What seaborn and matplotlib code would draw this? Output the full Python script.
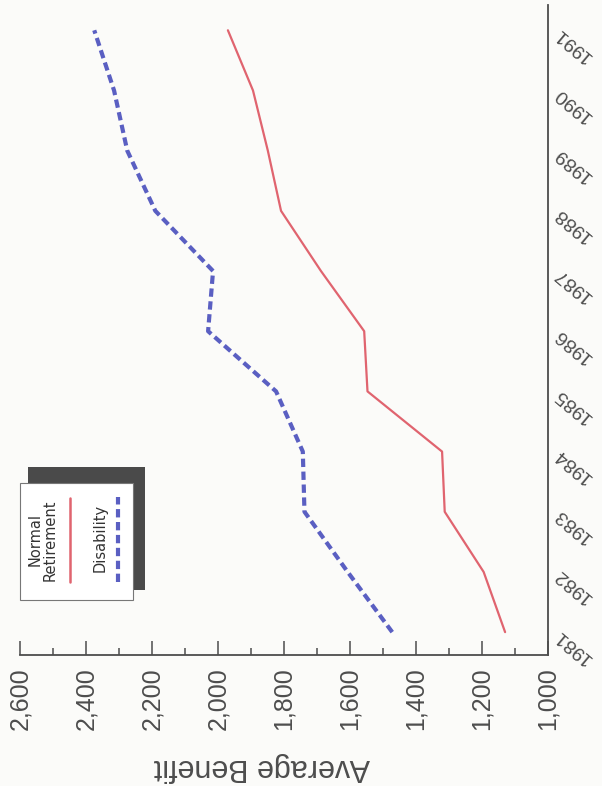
import numpy as np
import pandas as pd
import matplotlib
matplotlib.use("Agg")
import matplotlib.pyplot as plt
import seaborn as sns
from matplotlib.ticker import MultipleLocator, FuncFormatter
from matplotlib.patches import Rectangle
from matplotlib.lines import Line2D

# Average monthly benefit by year, two benefit types
years = list(range(1981, 1992))
normal_retirement = [1130, 1195, 1313, 1321, 1547, 1557, 1688, 1809, 1849, 1894, 1970]
disability = [1472, 1607, 1738, 1743, 1824, 2030, 2015, 2190, 2275, 2315, 2375]
series_names = ["Normal Retirement", "Disability"]
benefit_ticks = list(range(1000, 2601, 200))

RED = "#e0646f"
BLUE = "#5a5fc2"
INK = "#4d4d4d"
PAPER = "#fbfbf9"

sns.set_theme(style="white")
plt.rcParams["font.family"] = ["Liberation Sans", "DejaVu Sans"]

W, H = 602, 786
fig = plt.figure(figsize=(W / 100, H / 100), dpi=100, facecolor=PAPER)


def fx(px):
    return px / W


def fy(py):
    return 1 - py / H


# Page is laid out sideways: benefit runs right-to-left along the bottom,
# years run bottom-to-top along the right edge.
ax = fig.add_axes([fx(20), fy(655), fx(548) - fx(20), fy(5) - fy(655)])
ax.set_facecolor("none")

df = pd.DataFrame({
    "year": years * 2,
    "benefit": normal_retirement + disability,
    "series": [series_names[0]] * len(years) + [series_names[1]] * len(years),
})

sns.lineplot(data=df[df["series"] == series_names[0]], x="benefit", y="year",
             orient="y", color=RED, linewidth=1.6, ax=ax, legend=False)
sns.lineplot(data=df[df["series"] == series_names[1]], x="benefit", y="year",
             orient="y", color=BLUE, linewidth=3.0, ax=ax, legend=False)
ax.lines[-1].set_dashes((2.0, 1.1))

# benefit axis (bottom)
ax.set_xlim(2600, 1000)
ax.set_xticks(benefit_ticks)
ax.xaxis.set_minor_locator(MultipleLocator(100))
ax.xaxis.set_major_formatter(FuncFormatter(lambda v, p: f"{int(v):,}"))
ax.tick_params(axis="x", which="major", direction="in", length=10, width=1.1,
               color=INK, labelcolor=INK, labelsize=18, labelrotation=90, pad=9,
               bottom=True)
ax.tick_params(axis="x", which="minor", direction="in", length=5, width=1.1,
               color=INK, bottom=True)
ax.set_xlabel("Average Benefit", fontsize=22, color=INK, rotation=180)
ax.xaxis.set_label_coords(0.458, -0.172)
ax.xaxis.label.set_va("center")
ax.xaxis.label.set_ha("center")

# year axis (right)
ax.set_ylim(1980.62, 1991.42)
ax.set_yticks(years)
ax.set_yticklabels([str(y) for y in years])
ax.yaxis.tick_right()
ax.tick_params(axis="y", which="major", direction="in", length=10, width=1.1,
               color=INK, labelcolor=INK, labelsize=14, pad=6, labelrotation=140)
ax.set_ylabel("")
for tick in ax.yaxis.get_major_ticks():
    for lab in (tick.label1, tick.label2):
        lab.set_rotation(140)
        lab.set_rotation_mode("anchor")
        lab.set_horizontalalignment("right")
        lab.set_verticalalignment("center")

sns.despine(ax=ax, left=True, top=True, right=False, bottom=False)
for side in ("bottom", "right"):
    ax.spines[side].set_color(INK)
    ax.spines[side].set_linewidth(1.3)

# legend box with drop shadow, entries stacked sideways
fig.patches.append(Rectangle((fx(28), fy(590)), fx(145) - fx(28), fy(467) - fy(590),
                             transform=fig.transFigure, facecolor="#4a4a4a",
                             edgecolor="none", zorder=1))
fig.patches.append(Rectangle((fx(20), fy(600)), fx(133) - fx(20), fy(483) - fy(600),
                             transform=fig.transFigure, facecolor="white",
                             edgecolor="#777777", linewidth=0.8, zorder=2))
fig.text(fx(43), fy(540), "Normal\nRetirement", rotation=90, ha="center", va="center",
         fontsize=10.5, color="#333333", family=["DejaVu Sans"], linespacing=1.0,
         zorder=3)
fig.lines.append(Line2D([fx(70), fx(70)], [fy(582), fy(498)], transform=fig.transFigure,
                        color=RED, linewidth=1.8, zorder=3))
fig.text(fx(100), fy(538), "Disability", rotation=90, ha="center", va="center",
         fontsize=10.5, color="#333333", family=["DejaVu Sans"], zorder=3)
blue_sample = Line2D([fx(118), fx(118)], [fy(582), fy(497)], transform=fig.transFigure,
                     color=BLUE, linewidth=3.0, zorder=3)
blue_sample.set_dashes((2.0, 1.1))
fig.lines.append(blue_sample)

fig.savefig("out.png", dpi=100, facecolor=PAPER)
